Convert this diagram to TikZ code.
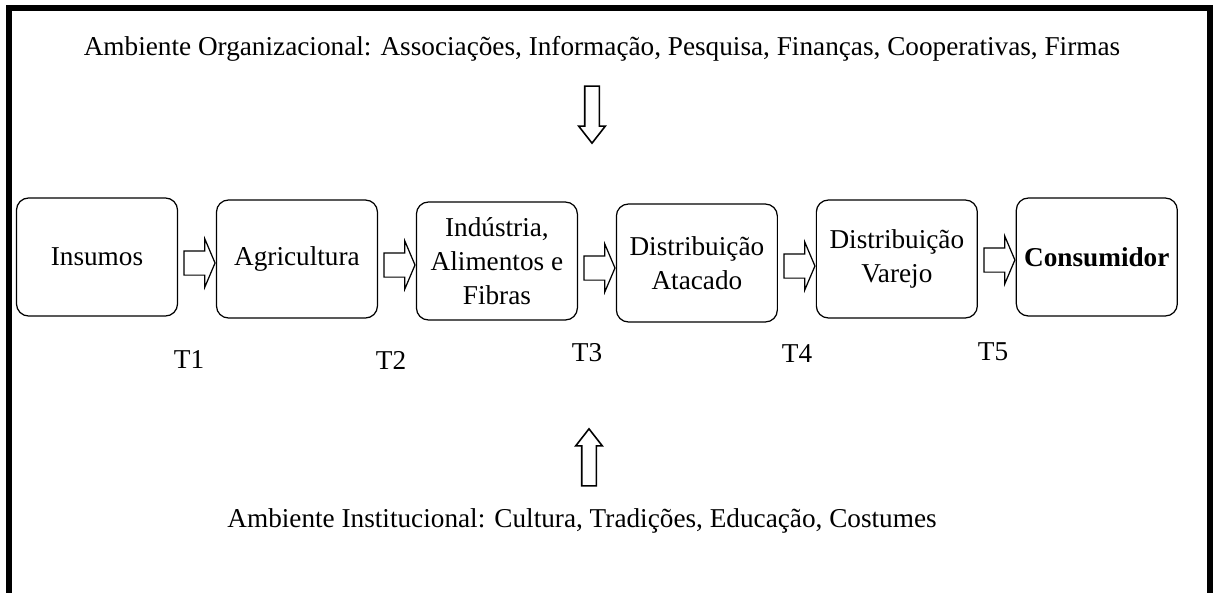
\documentclass[tikz,border=0pt]{standalone}
\usepackage{fontspec}
\setmainfont{Liberation Serif}
\usetikzlibrary{shapes.arrows}
\usetikzlibrary{calc}

\tikzset{
  elo/.style={draw, rounded corners=0.24cm, line width=0.7pt, minimum width=3.22cm, minimum height=2.36cm, align=center, inner sep=2pt},
  seta/.style={draw, single arrow, line width=0.7pt, minimum height=0.62cm, minimum width=0pt, inner sep=0.23cm, single arrow head extend=0.24cm, single arrow tip angle=134},
  setav/.style={draw, single arrow, line width=0.9pt, minimum height=1.14cm, minimum width=0pt, inner sep=0.13cm, single arrow head extend=0.12cm, single arrow tip angle=76}
}

\begin{document}
\begin{tikzpicture}[x=0.02cm, y=-0.02cm, node distance=4cm, font=\fontsize{15.5}{19.5}\selectfont]
\useasboundingbox (0,0) rectangle (1214,592);
% moldura
\draw[line width=0.12cm] (9,640) -- (9,8) -- (1210,8) -- (1210,640);

\node(org) at (602,49) {Ambiente Organizacional: Associações, Informação, Pesquisa, Finanças, Cooperativas, Firmas};
\node(inst) at (582,521) {Ambiente Institucional: Cultura, Tradições, Educação, Costumes};

% cadeia
\node(ins) [elo] at (97,257) {Insumos};
\node(agr) [elo, right of=ins, yshift=-0.04cm] {Agricultura};
\node(ind) [elo, right of=agr, yshift=-0.04cm] {Indústria,\\Alimentos e\\Fibras};
\node(ata) [elo, right of=ind, yshift=-0.04cm] {Distribuição\\Atacado};
\node(var) [elo, right of=ata, yshift=0.08cm] {Distribuição\\Varejo};
\node(con) [elo, right of=var, yshift=0.04cm] {\bfseries Consumidor};

\node(s1) [seta] at ($(ins.east)!0.5!(agr.west)+(0,5)$) {};
\node(s2) [seta] at ($(agr.east)!0.5!(ind.west)+(0,5)$) {};
\node(s3) [seta] at ($(ind.east)!0.5!(ata.west)+(0,6)$) {};
\node(s4) [seta] at ($(ata.east)!0.5!(var.west)+(0,5)$) {};
\node(s5) [seta] at ($(var.east)!0.5!(con.west)+(0,2)$) {};

% transacoes
\node(t1) at (189,360) {T1};
\node(t2) at (391,360) {T2};
\node(t3) at (587,353) {T3};
\node(t4) at (797,354) {T4};
\node(t5) at (993,352) {T5};

\node(sorg) [setav, shape border rotate=270] at (592,110) {};
\node(sinst) [setav, shape border rotate=90] at (589,462) {};
\end{tikzpicture}
\end{document}
